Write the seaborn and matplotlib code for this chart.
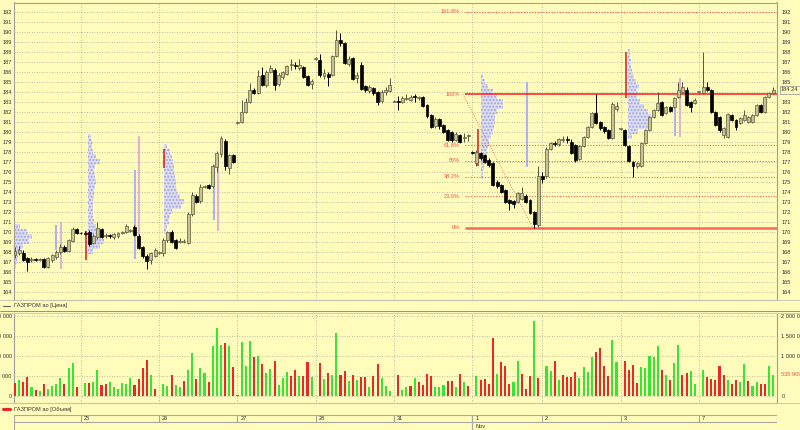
import numpy as np
import pandas as pd
import matplotlib
matplotlib.use('Agg')
import matplotlib.pyplot as plt
import matplotlib.transforms as mtransforms
from matplotlib.lines import Line2D
from matplotlib.ticker import FuncFormatter
import seaborn as sns

# ---------------- данные ----------------
ticker = 'ГАЗПРОМ ао'
day_labels = ['25', '26', '27', '28', '31', '1', '2', '3', '7']
day_start = [16, 35, 54, 73, 92, 111, 128, 147, 166]   # индекс первой свечи дня
month_label = 'Nov'
month_start = 111

opens = [
    167.7, 167.9, 167.9, 167.4, 167.2, 167.3, 167.2, 167.3, 166.5, 167.2, 167.5, 168.0, 168.5, 168.1, 169.1, 170.3,
    169.9, 169.9, 170.0, 168.9, 169.5, 170.3, 169.6, 169.7, 169.5, 169.6, 169.9, 170.0, 170.1, 170.5, 169.6, 168.5, 167.6, 167.2, 167.6,
    167.9, 167.9, 169.2, 170.0, 169.2, 169.0, 169.0, 168.9, 171.8, 173.6, 173.1, 174.5, 174.7, 174.6, 176.5, 177.8, 179.1, 176.4, 177.7,
    180.9, 181.0, 182.0, 183.0, 184.2, 183.9, 185.7, 184.7, 186.0, 186.2, 184.8, 185.5, 185.8, 186.7, 186.7, 186.4, 186.5, 185.6, 184.8,
    187.3, 187.2, 185.6, 185.8, 185.7, 187.6, 189.2, 188.9, 186.8, 187.4, 185.4, 186.7, 184.6, 184.1, 184.4, 184.0, 183.1, 184.0, 184.1,
    183.0, 183.1, 183.0, 183.3, 183.2, 183.6, 183.4, 183.5, 182.7, 181.7, 180.6, 181.3, 180.7, 180.2, 180.0, 179.2, 179.7, 179.4, 179.6,
    178.0, 176.9, 177.9, 177.7, 177.2, 176.9, 175.0, 174.7, 174.2, 173.2, 173.1, 173.0, 173.3, 173.6, 173.2, 172.0, 170.7,
    175.6, 175.6, 178.3, 178.9, 178.8, 179.2, 179.3, 179.0, 178.7, 177.3, 178.6, 179.5, 180.5, 181.9, 181.0, 180.5, 180.2, 179.4, 182.3,
    180.3, 180.2, 178.6, 177.0, 176.6, 176.6, 178.9, 180.2, 181.5, 182.2, 183.0, 181.9, 182.5, 182.5, 183.5, 184.0, 184.2, 183.0, 182.9,
    184.0, 183.9, 184.5, 184.2, 182.0, 181.5, 179.7, 179.5, 181.7, 181.2, 180.9, 181.2, 181.0, 181.0, 181.7, 182.7, 182.0, 183.5, 183.9,
]
highs = [
    168.5, 168.6, 168.2, 167.5, 167.5, 167.4, 167.4, 167.4, 167.5, 167.8, 168.2, 168.8, 168.7, 169.3, 170.5, 170.4,
    170.0, 170.1, 170.2, 169.8, 171.0, 170.4, 169.9, 169.8, 169.9, 170.0, 170.1, 170.8, 170.3, 170.7, 169.8, 168.6, 167.8, 168.0, 168.4,
    168.1, 169.4, 170.1, 170.2, 169.3, 169.4, 169.3, 172.0, 174.0, 173.8, 174.8, 174.7, 174.8, 176.8, 178.1, 179.6, 179.3, 177.8, 177.8,
    181.1, 183.2, 183.4, 184.9, 184.4, 186.2, 186.5, 186.2, 186.7, 186.4, 185.9, 186.1, 186.7, 187.3, 187.0, 187.3, 186.6, 185.7, 185.3,
    187.5, 187.8, 186.3, 186.0, 187.7, 190.2, 189.9, 189.0, 187.6, 187.5, 186.0, 187.0, 184.7, 184.7, 184.5, 184.1, 184.2, 184.5, 185.4,
    183.2, 183.6, 183.6, 183.8, 183.7, 183.8, 183.6, 183.6, 182.8, 181.8, 181.5, 181.4, 180.8, 180.3, 180.1, 180.0, 179.8, 179.9, 179.8,
    178.1, 178.2, 178.0, 177.8, 177.4, 177.0, 175.2, 174.8, 174.3, 173.3, 173.2, 174.0, 174.5, 173.8, 173.3, 172.1, 176.6,
    176.0, 178.5, 179.0, 179.1, 179.4, 179.6, 179.6, 179.3, 178.8, 178.7, 179.6, 180.6, 182.0, 183.8, 181.1, 180.6, 180.3, 183.0, 183.0,
    180.4, 180.3, 178.7, 177.1, 177.0, 179.0, 180.3, 181.6, 182.3, 184.0, 183.1, 182.6, 182.6, 183.5, 185.0, 185.0, 184.5, 183.1, 183.4,
    184.1, 188.0, 185.0, 184.3, 182.1, 181.6, 180.5, 181.9, 181.8, 181.3, 181.5, 182.2, 181.6, 181.8, 182.8, 182.8, 183.6, 184.0, 184.5,
]
lows = [
    167.4, 167.7, 167.1, 166.1, 167.0, 167.1, 167.1, 166.4, 166.4, 167.0, 167.3, 167.8, 168.0, 168.0, 169.0, 169.8,
    169.8, 169.7, 168.6, 168.8, 169.3, 169.4, 169.4, 169.4, 169.3, 169.4, 169.8, 169.9, 170.0, 169.6, 168.3, 167.4, 166.3, 166.8, 167.5,
    167.8, 167.6, 169.0, 168.9, 168.3, 168.9, 168.9, 168.8, 171.6, 172.9, 172.9, 174.4, 174.3, 174.4, 176.0, 177.5, 176.2, 175.8, 176.9,
    180.8, 180.9, 181.9, 182.9, 183.8, 183.8, 184.6, 184.5, 185.9, 184.2, 184.6, 185.3, 185.7, 186.2, 186.3, 186.2, 185.4, 184.6, 184.3,
    187.2, 185.5, 185.3, 184.6, 185.6, 187.5, 188.6, 186.8, 186.6, 185.2, 184.9, 184.2, 184.0, 183.9, 183.7, 182.7, 182.9, 183.7, 184.0,
    183.0, 182.2, 182.9, 183.2, 183.1, 183.0, 183.2, 182.5, 181.4, 180.4, 180.4, 180.3, 179.9, 179.1, 179.0, 179.1, 178.9, 179.0, 179.1,
    177.8, 176.6, 177.2, 176.9, 176.5, 174.6, 174.4, 173.9, 172.9, 172.2, 172.4, 172.9, 173.2, 172.9, 171.8, 170.43, 170.5,
    174.9, 175.4, 178.2, 178.6, 178.6, 179.0, 178.9, 177.8, 177.0, 177.2, 178.5, 179.4, 180.4, 180.8, 180.2, 179.9, 179.3, 179.3, 182.1,
    180.2, 178.6, 177.0, 175.5, 176.4, 176.5, 178.8, 180.1, 181.4, 182.1, 181.6, 181.8, 182.0, 182.4, 183.4, 183.9, 182.6, 182.0, 182.8,
    183.9, 183.8, 184.1, 181.9, 180.6, 180.0, 179.4, 179.4, 181.1, 180.2, 180.8, 181.1, 180.9, 180.9, 181.6, 181.9, 181.9, 183.4, 183.8,
]
closes = [
    168.1, 168.2, 167.2, 167.0, 167.3, 167.2, 167.3, 166.5, 167.4, 167.7, 168.0, 168.5, 168.1, 169.2, 170.3, 169.9,
    169.85, 169.8, 168.8, 169.6, 170.4, 169.5, 169.7, 169.6, 169.8, 169.9, 170.0, 170.6, 170.1, 169.7, 168.4, 167.6, 167.1, 167.9, 168.2,
    168.0, 169.2, 170.0, 169.0, 168.4, 169.1, 169.0, 171.8, 173.7, 173.0, 174.5, 174.6, 174.4, 176.6, 177.9, 179.4, 176.6, 177.7, 177.0,
    181.0, 182.0, 183.0, 184.2, 183.9, 185.6, 184.7, 186.0, 186.4, 184.7, 185.7, 186.0, 186.6, 186.8, 186.6, 186.7, 185.5, 184.7, 185.1,
    187.4, 185.7, 185.9, 185.5, 187.6, 189.2, 188.9, 186.9, 187.3, 185.3, 185.7, 184.3, 184.2, 184.5, 183.9, 183.0, 184.0, 184.2, 184.7,
    183.1, 183.0, 183.4, 183.4, 183.5, 183.5, 183.45, 182.6, 181.6, 180.5, 181.3, 180.6, 180.0, 179.2, 179.2, 179.8, 179.0, 179.5, 179.6,
    177.9, 178.0, 177.4, 177.0, 176.7, 174.7, 174.6, 174.0, 173.0, 172.9, 172.8, 173.9, 173.9, 173.0, 171.9, 170.8, 175.6,
    175.3, 178.3, 178.9, 178.8, 179.3, 179.3, 179.2, 177.9, 177.2, 178.6, 179.5, 180.5, 181.9, 180.9, 180.4, 180.1, 179.4, 182.8, 182.6,
    180.3, 178.7, 177.1, 176.6, 176.9, 178.9, 180.2, 181.5, 182.2, 182.9, 181.7, 182.5, 182.1, 183.4, 184.2, 184.5, 182.7, 182.5, 183.2,
    184.05, 184.5, 184.2, 182.0, 180.7, 180.2, 180.4, 181.8, 181.2, 180.5, 181.4, 181.7, 181.5, 181.7, 182.7, 182.0, 183.5, 183.9, 184.24,
]

# объём, тыс. шт.
volumes_k = [
    340, 410, 360, 475, 225, 160, 125, 300, 175, 260, 310, 460, 310, 700, 835, 225,
    15, 340, 340, 360, 660, 285, 310, 350, 240, 190, 340, 315, 450, 285, 425, 690, 890, 540, 190,
    15, 310, 260, 540, 280, 225, 370, 660, 1075, 425, 700, 575, 350, 1260, 1700, 1280, 1325, 1240, 733,
    20, 1340, 740, 1365, 965, 990, 810, 575, 675, 875, 290, 460, 615, 510, 650, 500, 500, 840, 475,
    15, 815, 430, 575, 530, 1565, 530, 625, 390, 525, 415, 475, 490, 225, 510, 810, 460, 265, 140,
    15, 540, 160, 235, 265, 460, 360, 290, 565, 510, 235, 225, 285, 385, 390, 235, 550, 360, 260,
    15, 500, 410, 425, 310, 1435, 560, 840, 760, 310, 360, 875, 560, 175, 515, 1880, 450,
    15, 760, 625, 865, 415, 530, 490, 490, 610, 460, 715, 615, 975, 1110, 1200, 740, 510, 1385, 840,
    15, 880, 665, 775, 340, 730, 710, 1000, 965, 1250, 660, 525, 410, 835, 1280, 525, 585, 625, 310,
    15, 660, 480, 440, 400, 740, 525, 410, 310, 415, 360, 810, 385, 260, 360, 315, 310, 760, 535.909,
]
vol_sides = ('rgrrgrgrggggrggr'
             'rgrggrrggggggrrrrgr'
             'rggrggrggrggrgggrgr'
             'rgggrgrggrgggrrgrrg'
             'rrgrggrrgrgrrgrrggg'
             'rrggrgrrrrgggrrgrgr'
             'rgrrrrgrrrggrrrgr'
             'rggrgrrrrggggrrrrgg'
             'rrrrrgggggrgrggrrgg'
             'rgrrrrrgrrggrggrrgg')

# профили объёма по цене (уровни и относительный объём)
prof_anchor = [-0.2, 17.8, 36.2, 113.0, 148.9]
prof_levels = [
    [170.5, 170.0, 169.5, 169.0, 168.5, 168.0, 167.5, 167.0, 166.5],
    [179.5, 179.0, 178.5, 178.0, 177.5, 177.0, 176.5, 176.0, 175.5, 175.0, 174.5, 174.0,
     173.5, 173.0, 172.5, 172.0, 171.5, 171.0, 170.5, 170.0, 169.5, 169.0, 168.5, 168.0],
    [178.5, 178.0, 177.5, 177.0, 176.5, 176.0, 175.5, 175.0, 174.5, 174.0, 173.5, 173.0,
     172.5, 172.0, 171.5, 171.0, 170.5, 170.0],
    [185.5, 185.0, 184.5, 184.0, 183.5, 183.0, 182.5, 182.0, 181.5, 181.0, 180.5, 180.0,
     179.5, 179.0, 178.5, 178.0, 177.5, 177.0, 176.5, 176.0, 175.5],
    [188.0, 187.5, 187.0, 186.5, 186.0, 185.5, 185.0, 184.5, 184.0, 183.5, 183.0, 182.5,
     182.0, 181.5, 181.0, 180.5, 180.0, 179.5],
]
prof_volume = [
    [6, 13, 18, 15, 9, 6, 4, 3, 2],
    [3, 4, 4, 5, 8, 12, 7, 6, 7, 8, 7, 6, 6, 5, 5, 5, 5, 6, 8, 11, 14, 16, 12, 5],
    [3, 6, 8, 9, 10, 10, 11, 12, 12, 13, 16, 20, 17, 8, 6, 5, 3, 2],
    [2, 4, 7, 12, 16, 22, 22, 16, 14, 14, 13, 12, 10, 8, 7, 6, 5, 4, 3, 2, 2],
    [2, 2, 3, 3, 4, 6, 8, 11, 9, 9, 12, 16, 20, 23, 24, 20, 10, 4],
]
# узкие профили-столбики
strip_x = [10.0, 11.2, 29.1, 30.2, 48.3, 49.3, 124.2, 160.2, 161.4]
strip_lo = [168.2, 166.3, 167.3, 169.5, 171.2, 170.1, 176.5, 179.6, 179.5]
strip_hi = [170.7, 171.0, 176.2, 179.6, 176.7, 177.5, 185.0, 182.4, 185.4]
strip_kind = ['b', 'p', 'b', 'p', 'b', 'p', 'b', 'b', 'p']
mark_x = [17.2, 36.2, 112.3, 148.3]
mark_lo = [167.2, 176.4, 176.6, 183.4]
mark_hi = [170.1, 178.3, 180.3, 188.0]

# уровни Фибоначчи
fib_low, fib_high = 170.43, 183.77
fib_ratio = [0.0, 0.236, 0.382, 0.5, 0.618, 1.0, 1.618]
fib_text = ['0%', '23.6%', '38.2%', '50%', '61.8%', '100%', '161.8%']
fib_from, fib_to = 108.7, 125.7

# ---------------- оформление ----------------
BG = '#fffcbc'
GRID = '#a8a898'
TXT = '#303030'
UP = '#c7c38f'
GREEN = '#33e833'
RED = '#ee2626'
FS = 4.1
PX_BAR = 4.12          # пикселей на одну свечу
W, H = 800, 430

sns.set_theme(style='white', rc={'axes.facecolor': BG, 'figure.facecolor': BG})
plt.rcParams['font.family'] = ['Liberation Sans', 'DejaVu Sans']
plt.rcParams['hatch.linewidth'] = 0.9


def box(l, t, r, b):
    return [l / W, 1 - b / H, (r - l) / W, (b - t) / H]


fig = plt.figure(figsize=(W / 100, H / 100), dpi=100)
ax = fig.add_axes(box(14, 2.5, 777, 300))
axv = fig.add_axes(box(14, 312.5, 777, 403))
axd = fig.add_axes(box(14, 414.5, 777, 430))

n = len(opens)
x = np.arange(n)
xlim = (-1 / PX_BAR, (777 - 15) / PX_BAR)
o, h, l, c = map(np.array, (opens, highs, lows, closes))

# ---- цена ----
for i, x0 in enumerate(prof_anchor):
    ax.barh(prof_levels[i], np.array(prof_volume[i]) / PX_BAR, left=x0, height=0.5,
            color='#dcdcea', edgecolor='#9ba1ea', hatch='.....', linewidth=0, zorder=1)
for xs, lo, hi, k in zip(strip_x, strip_lo, strip_hi, strip_kind):
    ax.vlines(xs, lo, hi, color='#aeb2ee' if k == 'b' else '#e4b2cc', lw=1.5, zorder=1.5)
ax.vlines(mark_x, mark_lo, mark_hi, color='#ee1111', lw=1.1, zorder=2)

fib_vals = [fib_low + r * (fib_high - fib_low) for r in fib_ratio]
fib_x0 = fib_from + 0.5
for r, v, t in zip(fib_ratio, fib_vals, fib_text):
    if r == 0.0:
        ax.hlines(v, fib_x0, xlim[1], color='#f26a5c', lw=1.8, zorder=2.5)
    elif r == 1.0:
        ax.hlines(v, fib_x0, xlim[1], color='#ff1a1a', lw=1.1, zorder=2.5)
    else:
        ax.hlines(v, fib_x0, xlim[1], color='#ff5a5a', lw=0.8, linestyles=(0, (1, 1.5)), zorder=2.5)
    ax.text(fib_x0 - 1.2, v, t, ha='right', va='center', fontsize=FS, color='#ff4a4a', zorder=5)
ax.plot([fib_from, fib_to], [fib_high, fib_low], color='#ff6a6a', lw=0.7,
        linestyle=(0, (1, 1.5)), zorder=2.5)

up = c >= o
body_lo = np.minimum(o, c)
body_h = np.maximum(np.abs(c - o), 0.07)
ax.vlines(x[up], l[up], h[up], color='#55553f', lw=0.7, zorder=3)
ax.vlines(x[~up], l[~up], h[~up], color='black', lw=0.7, zorder=3)
ax.bar(x[up], body_h[up], bottom=body_lo[up], width=0.72, color=UP,
       edgecolor='#5a5a44', linewidth=0.5, zorder=4)
ax.bar(x[~up], body_h[~up], bottom=body_lo[~up], width=0.72, color='black',
       edgecolor='black', linewidth=0.5, zorder=4)

ax.set_xlim(xlim)
ax.set_ylim(192 - (300 - 12) / 10, 192 + (12 - 2.5) / 10)
price_ticks = np.arange(164, 193)
ax.set_yticks(price_ticks)
ax.set_xticks(day_start)
ax.grid(True, color=GRID, linestyle=(0, (1, 2)), lw=0.6, zorder=0)
ax.tick_params(axis='y', length=0, pad=1.6, labelsize=FS, colors=TXT)
ax.tick_params(axis='x', length=0, labelbottom=False)
sec = ax.secondary_yaxis('right')
sec.set_yticks([t for t in price_ticks if t != 184])
sec.tick_params(length=0, pad=3.1, labelsize=FS, colors=TXT)
for s in sec.spines.values():
    s.set_visible(False)

# ---- объём ----
vdf = pd.DataFrame({'bar': x, 'vol': np.round(np.array(volumes_k) * 1000),
                    'side': list(vol_sides)})
sns.barplot(data=vdf, x='bar', y='vol', hue='side', hue_order=['g', 'r'],
            palette={'g': GREEN, 'r': RED}, native_scale=True, dodge=False, width=0.5,
            errorbar=None, saturation=1, legend=False, linewidth=0, ax=axv, zorder=3)
axv.set_xlim(xlim)
vpp = 2_000_000 / 80.6
axv.set_ylim(-(403 - 396.3) * vpp, 2_000_000 + (315.7 - 312.5) * vpp)
vol_ticks = [0, 500_000, 1_000_000, 1_500_000, 2_000_000]
fmt = FuncFormatter(lambda v, p: f'{int(v):,}'.replace(',', ' '))
axv.set_yticks(vol_ticks)
axv.yaxis.set_major_formatter(fmt)
axv.set_xticks(day_start)
axv.grid(True, color=GRID, linestyle=(0, (1, 2)), lw=0.6, zorder=0)
axv.set_xlabel('')
axv.set_ylabel('')
axv.tick_params(axis='y', length=0, pad=1.6, labelsize=FS, colors=TXT)
axv.tick_params(axis='x', length=0, labelbottom=False)
secv = axv.secondary_yaxis('right')
secv.set_yticks([t for t in vol_ticks if t != 500_000])
secv.yaxis.set_major_formatter(fmt)
secv.tick_params(length=0, pad=3.1, labelsize=FS, colors=TXT)
for s in secv.spines.values():
    s.set_visible(False)

for a in (ax, axv):
    for s in a.spines.values():
        s.set_color('#a0a0a0')
        s.set_linewidth(0.8)

# метки последних значений
tp = mtransforms.blended_transform_factory(fig.transFigure, ax.transData)
fig.text(781 / W, closes[-1], f'{closes[-1]:.2f}', transform=tp, va='center', ha='left',
         fontsize=FS, color=TXT, zorder=10,
         bbox=dict(boxstyle='square,pad=0.25', fc=BG, ec='#909090', lw=0.5))
tv = mtransforms.blended_transform_factory(fig.transFigure, axv.transData)
last_vol = int(round(volumes_k[-1] * 1000))
fig.text(781 / W, last_vol, f'{last_vol:,}'.replace(',', ' '), transform=tv, va='center',
         ha='left', fontsize=FS, color='#f05040', zorder=10,
         bbox=dict(boxstyle='square,pad=0.2', fc=BG, ec='none'))

# ---- шкала дат ----
axd.set_xlim(xlim)
axd.set_ylim(0, 1)
axd.axis('off')
axd.hlines([1, 0.5], xlim[0], xlim[1], color='#a8a8a0', lw=0.8)
axd.vlines(day_start, 0.5, 1, color='#a8a8a0', lw=0.8)
axd.vlines([xlim[0] + 0.1, month_start], 0, 1, color='#a8a8a0', lw=0.8)
for d, lab in zip(day_start, day_labels):
    axd.text(d + 0.7, 0.76, lab, fontsize=FS, color=TXT, va='center', ha='left')
axd.text(month_start + 0.7, 0.25, month_label, fontsize=FS, color=TXT, va='center', ha='left')

# ---- подписи серий и разделители панелей ----
for y, colr in ((300, '#c8c8b4'), (311, '#909090'), (312.5, '#d4d4c0'), (403, '#c8c8b4')):
    fig.add_artist(Line2D([0, 1], [1 - y / H] * 2, color=colr, lw=0.7))
fig.add_artist(Line2D([3 / W, 10 / W], [1 - 305.5 / H] * 2, color='#606060', lw=0.8))
fig.text(14 / W, 1 - 305.5 / H, f'{ticker} [Цена]', fontsize=FS, color=TXT, va='center')
fig.add_artist(Line2D([3 / W, 10 / W], [1 - 409 / H] * 2, color=RED, lw=2.2))
fig.text(14 / W, 1 - 409 / H, f'{ticker} [Объем]', fontsize=FS, color=TXT, va='center')

fig.savefig('out.png', dpi=100, facecolor=BG)
